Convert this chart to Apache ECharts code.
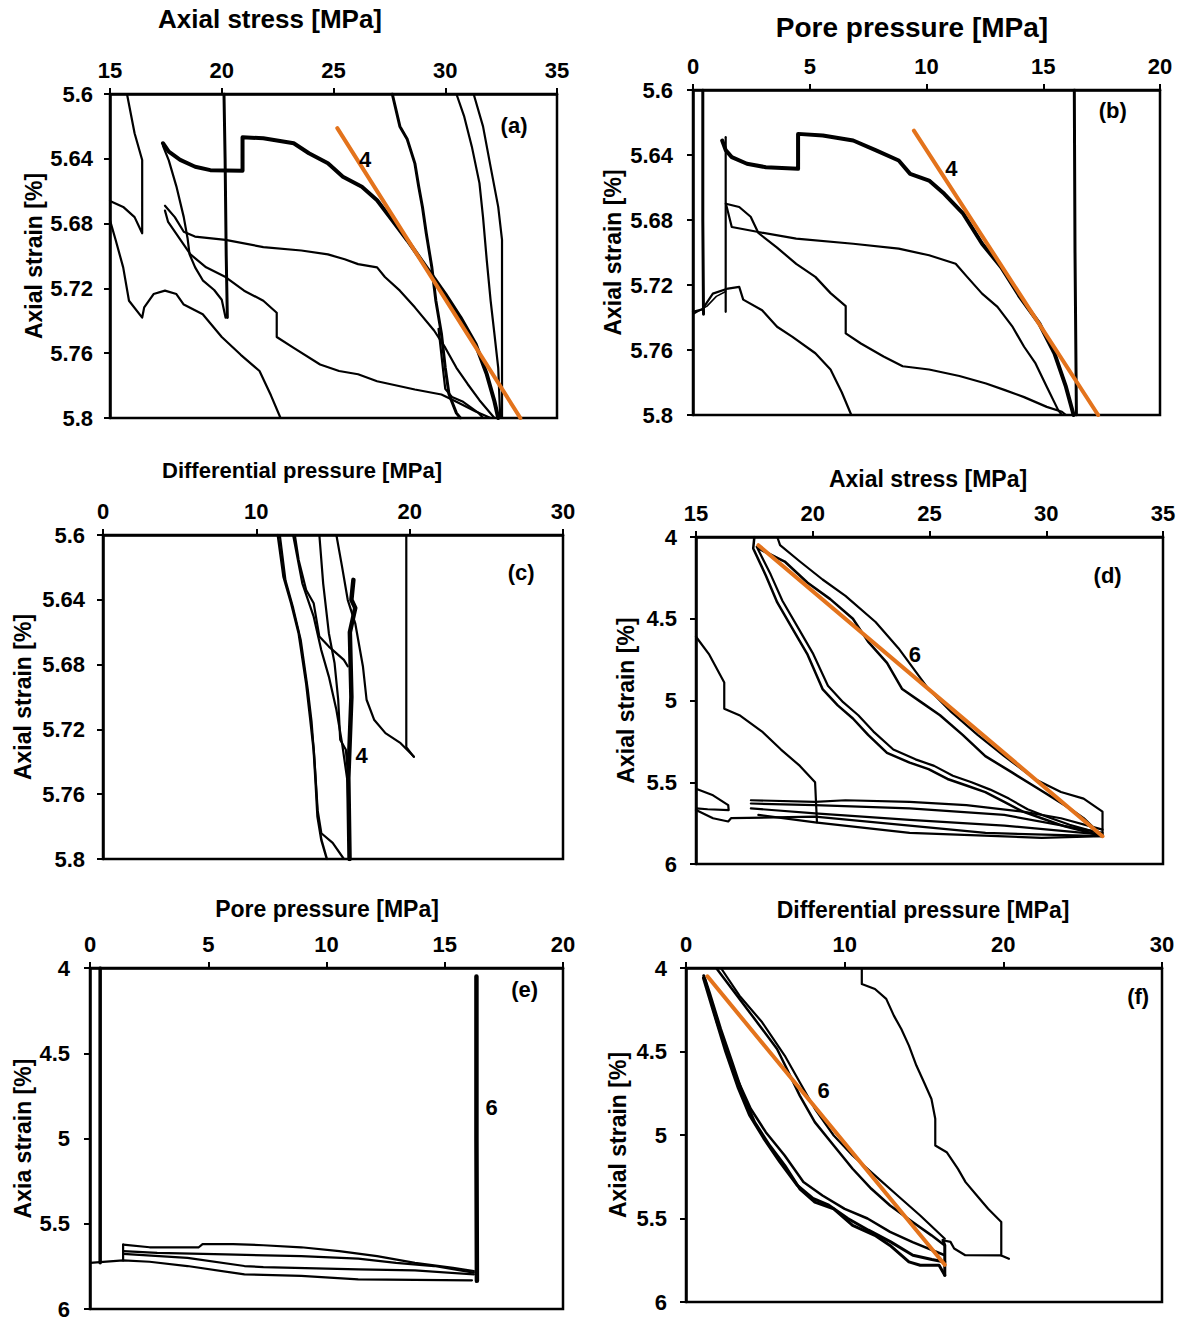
<!DOCTYPE html>
<html><head><meta charset="utf-8">
<script src="https://cdn.jsdelivr.net/npm/echarts@6/dist/echarts.min.js"></script>
<style>html,body{margin:0;padding:0;background:#fff}#c{width:1179px;height:1320px}</style>
</head><body><div id="c"></div>
<script>
// ---------- tick ranges ----------
const xRanges = [[15,35,5],[0,20,5],[0,30,10],[15,35,5],[0,20,5],[0,30,10]];
const yRanges = [[5.6,5.8,0.04],[5.6,5.8,0.04],[5.6,5.8,0.04],[4,6,0.5],[4,6,0.5],[4,6,0.5]];
const xTitles = ['Axial stress [MPa]','Pore pressure [MPa]','Differential pressure [MPa]','Axial stress [MPa]','Pore pressure [MPa]','Differential pressure [MPa]'];
const yTitles = ['Axial strain [%]','Axial strain [%]','Axial strain [%]','Axial strain [%]','Axia strain [%]','Axial strain [%]'];
const panelTags = ['(a)','(b)','(c)','(d)','(e)','(f)'];
const tagPos = [[33.1,5.62],[18.0,5.6127],[27.3,5.6236],[32.65,4.24],[18.4,4.13],[28.53,4.175]];
const slopeLabels = [['4',26.44,5.6407,0],['4',11.09,5.6485,1],['4',16.9,5.7367,2],['6',24.39,4.72,3],['6',17.0,4.82,4],['6',8.71,4.734,5]];

// ---------- panel (a): axial stress vs axial strain ----------
const a_orange = [[25.17,5.6211],[33.36,5.8]];
const a_thick = [[17.37,5.6304],[17.63,5.6356],[18.14,5.6407],[18.81,5.6449],[19.49,5.647],[20.93,5.6474],[20.93,5.6267],[21.86,5.6273],[23.22,5.6304],[23.9,5.6366],[24.75,5.6428],[25.42,5.6511],[26.27,5.6573],[26.95,5.6656],[27.63,5.678],[28.31,5.6904],[29.15,5.7069],[30.0,5.7235],[30.68,5.738],[31.36,5.7545],[31.86,5.7731],[32.2,5.7897],[32.37,5.8]];
const a_vert = [[20.1,5.6],[20.15,5.64],[20.2,5.70],[20.25,5.738]];
const a_c1 = [[15,5.666],[15.59,5.6697],[16.1,5.676],[16.44,5.686],[16.44,5.6407],[16.1,5.6242],[15.76,5.6]];
const a_c2 = [[15,5.678],[15.25,5.69],[15.59,5.707],[15.85,5.7276],[16.44,5.738],[16.53,5.7317],[16.95,5.7235],[17.46,5.7214],[17.97,5.7235],[18.3,5.73],[19.15,5.736],[20.0,5.750],[20.85,5.761],[21.69,5.771],[22.2,5.786],[22.63,5.8]];
const a_c3 = [[17.37,5.632],[17.63,5.641],[17.97,5.657],[18.3,5.676],[18.47,5.689],[18.56,5.699],[18.81,5.707],[19.15,5.715],[19.66,5.721],[20.0,5.727],[20.17,5.738]];
const a_c4 = [[17.46,5.669],[17.9,5.676],[18.3,5.685],[18.8,5.688],[20.17,5.690],[21.86,5.6945],[23.56,5.6966],[24.75,5.699],[25.5,5.702],[26.1,5.705],[26.95,5.707],[27.3,5.713],[27.97,5.7214],[28.64,5.7317],[29.5,5.746],[30.0,5.7566],[30.5,5.769],[31.0,5.779],[31.53,5.789],[32.2,5.8]];
const a_c5 = [[17.46,5.672],[17.6,5.679],[18.0,5.687],[18.6,5.699],[19.3,5.707],[20.17,5.713],[21.0,5.7214],[21.86,5.7276],[22.46,5.735],[22.46,5.750],[23.2,5.7566],[24.4,5.767],[25.25,5.771],[26.1,5.773],[26.95,5.7773],[28.64,5.7824],[29.83,5.7855],[30.5,5.790],[31.36,5.796],[32.03,5.8]];
const a_c6 = [[27.63,5.6],[27.97,5.62],[28.3,5.628],[28.64,5.6428],[28.81,5.657],[28.98,5.6697],[29.15,5.686],[29.4,5.707],[29.58,5.7276],[29.83,5.748],[30.0,5.769],[30.17,5.7855],[30.5,5.797],[30.68,5.8]];
const a_c6b = [[29.7,5.745],[29.9,5.770],[30.0,5.782],[30.3,5.787],[30.8,5.790],[31.5,5.797],[31.7,5.8]];
const a_c7 = [[30.5,5.6],[30.85,5.614],[31.19,5.6325],[31.53,5.655],[31.69,5.676],[31.86,5.703],[32.03,5.7276],[32.2,5.748],[32.37,5.769],[32.46,5.8]];
const a_c8 = [[31.27,5.6],[31.69,5.62],[32.03,5.645],[32.37,5.6697],[32.54,5.690],[32.54,5.8]];

// ---------- panel (b): pore pressure vs axial strain ----------
const b_orange = [[9.46,5.625],[17.35,5.8]];
const b_vert1 = [[0.42,5.6],[0.42,5.68],[0.45,5.738]];
const b_vert2 = [[1.4,5.629],[1.4,5.7365]];
const b_c1 = [[0,5.7365],[0.4,5.735],[0.85,5.7253],[1.5,5.7222],[1.98,5.7212],[2.15,5.729],[2.96,5.7355],[3.6,5.7457],[4.26,5.7519],[5.24,5.762],[5.89,5.772],[6.37,5.786],[6.78,5.8]];
const b_c1b = [[0,5.738],[0.6,5.733],[1.0,5.727],[1.4,5.724]];
const b_thick = [[1.25,5.6311],[1.4,5.637],[1.66,5.6413],[2.31,5.6454],[3.12,5.6475],[4.5,5.6485],[4.5,5.627],[5.56,5.628],[6.86,5.6311],[7.84,5.6372],[8.81,5.6434],[9.3,5.6516],[10.11,5.6557],[10.76,5.6639],[11.57,5.6761],[12.38,5.6946],[13.2,5.709],[14.0,5.7273],[14.83,5.7437],[15.48,5.7621],[15.97,5.7826],[16.3,5.8]];
const b_c4 = [[1.41,5.670],[1.66,5.6843],[2.8,5.6874],[4.42,5.6915],[6.86,5.6946],[8.81,5.6976],[10.11,5.7017],[11.25,5.7069],[11.74,5.715],[12.38,5.7253],[13.04,5.7335],[13.69,5.7458],[14.18,5.758],[14.67,5.7683],[15.15,5.7826],[15.64,5.797],[15.8,5.8]];
const b_c5 = [[1.41,5.670],[1.98,5.672],[2.47,5.678],[2.8,5.688],[3.6,5.697],[4.42,5.707],[5.24,5.715],[5.89,5.725],[6.54,5.733],[6.54,5.7498],[7.19,5.756],[8.16,5.764],[8.98,5.770],[10.11,5.772],[11.41,5.776],[12.55,5.7806],[13.36,5.7847],[14.18,5.789],[15.15,5.795],[15.8,5.798],[15.97,5.8]];
const b_vert3 = [[16.33,5.6],[16.36,5.7],[16.42,5.8]];

// ---------- panel (c): differential pressure vs axial strain ----------
const c_v20 = [[19.78,5.6],[19.78,5.731],[20.27,5.737]];
const c_2 = [[15.22,5.6],[15.59,5.6195],[15.96,5.640],[16.45,5.6545],[16.95,5.681],[17.19,5.7017],[17.68,5.714],[18.42,5.7223],[19.41,5.7285],[20.27,5.7367]];
const c_thick = [[16.33,5.6277],[16.2,5.64],[16.45,5.645],[16.1,5.66],[16.2,5.70],[16.0,5.75],[16.08,5.8]];
const c_4 = [[14.11,5.6],[14.36,5.63],[14.73,5.6606],[15.1,5.679],[15.34,5.7017],[15.47,5.7264],[15.84,5.7326],[16.0,5.75]];
const c_5 = [[12.51,5.6],[12.76,5.6154],[13.25,5.6339],[13.74,5.6421],[14.11,5.6627],[14.73,5.6689],[15.71,5.6771],[15.96,5.681]];
const c_6 = [[12.4,5.6],[13.0,5.6298],[13.74,5.6504],[14.23,5.6709],[14.73,5.6874],[15.22,5.7079],[15.59,5.7285],[15.96,5.753],[16.08,5.8]];
const c_7 = [[11.4,5.6],[11.77,5.6257],[12.27,5.6421],[12.76,5.6606],[13.25,5.6915],[13.5,5.7121],[13.74,5.7326],[13.87,5.7532],[13.99,5.7738],[14.24,5.7882],[14.6,5.8]];
const c_8 = [[11.53,5.6],[11.9,5.628],[12.4,5.645],[12.9,5.665],[13.35,5.695],[13.6,5.715],[13.8,5.74],[14.0,5.77],[14.24,5.7841],[14.98,5.79],[15.71,5.8]];

// ---------- panel (d): axial stress vs axial strain (full range) ----------
const d_orange = [[17.67,4.05],[32.41,5.83]];
const d_A1 = [[17.5,4.0],[17.45,4.07],[17.99,4.235],[18.48,4.40],[19.13,4.56],[19.78,4.72],[20.42,4.93],[21.07,5.03],[21.72,5.11],[22.37,5.21],[23.18,5.32],[24.15,5.38],[24.96,5.42],[25.77,5.48],[26.58,5.52],[27.39,5.56],[28.2,5.62],[29.0,5.68],[29.8,5.72],[30.79,5.77],[31.92,5.81],[32.41,5.83]];
const d_A2 = [[17.6,4.06],[18.2,4.23],[18.7,4.39],[19.35,4.55],[20.0,4.71],[20.65,4.91],[21.3,5.01],[21.95,5.09],[22.6,5.19],[23.45,5.30],[24.4,5.36],[25.2,5.40],[26.0,5.46],[26.8,5.50],[27.6,5.545],[28.4,5.60],[29.2,5.665],[30.0,5.71],[31.0,5.76],[32.0,5.80],[32.41,5.82]];
const d_B = [[17.67,4.07],[18.8,4.15],[19.78,4.28],[20.75,4.38],[21.72,4.50],[22.37,4.64],[23.18,4.77],[23.83,4.93],[24.64,5.01],[25.45,5.09],[26.42,5.21],[27.39,5.34],[28.53,5.44],[29.66,5.54],[30.79,5.64],[31.6,5.72],[32.25,5.81]];
const d_top = [[18.48,4.0],[18.6,4.05],[19.45,4.15],[20.42,4.26],[21.4,4.36],[22.69,4.52],[23.67,4.68],[24.96,4.93],[25.93,5.07],[27.06,5.21],[28.2,5.34],[29.5,5.48],[30.63,5.56],[31.6,5.60],[32.41,5.68],[32.41,5.81]];
const d_left = [[15,4.61],[15.57,4.72],[16.21,4.89],[16.21,5.05],[16.86,5.09],[17.83,5.19],[18.64,5.30],[19.45,5.40],[20.1,5.50],[20.18,5.745]];
const d_L1 = [[15,5.54],[15.73,5.58],[16.38,5.64],[16.4,5.67],[15.5,5.665],[15,5.66]];
const d_L2 = [[15,5.67],[15.73,5.72],[16.38,5.74],[16.5,5.72],[20.1,5.71],[24.15,5.765],[27.4,5.81],[32.41,5.83]];
const d_L3 = [[17.35,5.61],[20.1,5.62],[21.4,5.61],[24.15,5.62],[26.58,5.64],[29.0,5.68],[30.63,5.72],[32.41,5.79]];
const d_L4 = [[17.35,5.63],[20.1,5.64],[24.15,5.66],[28.2,5.70],[32.41,5.81]];
const d_L5 = [[17.35,5.66],[20.1,5.69],[24.15,5.73],[28.2,5.765],[32.41,5.82]];
const d_L6 = [[17.67,5.70],[20.1,5.745],[24.15,5.81],[29.8,5.84],[32.41,5.83]];

// ---------- panel (e): pore pressure vs axial strain (full range) ----------
const e_vert1 = [[0.43,4.0],[0.43,5.729]];
const e_vert2 = [[1.4,5.622],[1.4,5.715]];
const e_vert3 = [[16.34,4.05],[16.34,5.0],[16.36,5.835]];
const e_base = [[0,5.729],[1.4,5.715],[2.52,5.723],[4.12,5.748],[6.53,5.797],[8.93,5.806],[11.34,5.826],[16.15,5.832]];
const e_l1 = [[1.4,5.622],[2.52,5.638],[4.6,5.638],[4.76,5.619],[6.05,5.619],[7.33,5.626],[8.93,5.638],[10.54,5.661],[12.14,5.69],[13.74,5.729],[15.35,5.758],[16.23,5.777]];
const e_l2 = [[1.4,5.661],[2.84,5.671],[5.73,5.68],[8.93,5.69],[11.34,5.704],[12.94,5.729],[14.55,5.748],[16.23,5.787]];
const e_l3 = [[1.4,5.677],[4.12,5.70],[6.53,5.748],[7.33,5.754],[11.34,5.768],[13.74,5.774],[16.23,5.797]];

// ---------- panel (f): differential pressure vs axial strain (full range) ----------
const f_orange = [[1.35,4.05],[16.31,5.777]];
const f_right = [[11.08,4.0],[11.08,4.096],[11.91,4.126],[12.62,4.185],[13.1,4.285],[13.57,4.365],[14.05,4.465],[14.52,4.584],[15.0,4.684],[15.47,4.784],[15.71,4.903],[15.71,5.063],[16.43,5.103],[17.14,5.203],[17.62,5.282],[18.33,5.362],[19.04,5.442],[19.87,5.521],[19.87,5.721],[20.35,5.741]];
const f_right2 = [[19.87,5.721],[17.6,5.72],[16.9,5.68],[16.67,5.64],[16.19,5.63]];
const f_low1 = [[1.12,4.046],[1.47,4.146],[2.18,4.365],[2.9,4.564],[3.6,4.764],[4.32,4.923],[5.27,5.063],[6.22,5.182],[7.17,5.322],[8.12,5.402],[9.31,5.442],[10.5,5.541],[11.9,5.601],[12.86,5.661],[14.05,5.76],[14.76,5.78],[15.95,5.78],[16.31,5.84]];
const f_low2 = [[1.2,4.07],[1.95,4.325],[3.13,4.644],[4.08,4.843],[5.03,4.983],[6.22,5.123],[7.4,5.282],[8.6,5.362],[10.0,5.442],[11.44,5.5],[12.86,5.58],[14.28,5.641],[16.31,5.72]];
const f_low3 = [[1.1,4.06],[1.7,4.25],[2.5,4.5],[3.3,4.72],[4.0,4.88],[4.9,5.02],[5.9,5.16],[7.0,5.30],[8.0,5.38],[9.0,5.42],[10.2,5.50],[11.5,5.57],[12.9,5.64],[14.3,5.72],[15.5,5.745],[16.31,5.76]];
const f_up1 = [[1.95,4.006],[2.9,4.126],[3.85,4.245],[4.8,4.365],[5.74,4.485],[6.46,4.624],[7.17,4.764],[8.12,4.923],[9.31,5.063],[10.5,5.202],[11.68,5.322],[12.86,5.422],[14.28,5.521],[15.47,5.601],[16.31,5.661]];
const f_up2 = [[2.2,4.0],[3.37,4.166],[4.8,4.325],[6.22,4.524],[7.17,4.684],[8.12,4.843],[9.31,5.003],[10.5,5.123],[11.9,5.242],[13.33,5.362],[14.76,5.482],[16.31,5.621]];
const f_vert = [[16.2,5.63],[16.31,5.66],[16.31,5.84]];

// ---------- layout ----------
const FONT = 'Arial, "Liberation Sans", sans-serif';
const ORANGE = '#E3731C';
const grids = [
  {left:110, top:94, width:447, height:324},
  {left:693, top:90, width:467, height:325},
  {left:103, top:535, width:460, height:324},
  {left:696, top:537, width:467, height:327},
  {left:90,  top:968, width:473, height:343},
  {left:686, top:968, width:476, height:334}
];
const titleSpec = [[270,22,26],[912,30,28],[302,473,22],[928,481,23],[327,911,23],[923,912,23]];
const yNameGap = [65,69,69,59,56,57];
const yLabMargin = [17,20,18,19,20,19];

const panelLines = [
  [[a_c1,2.2],[a_c2,2.2],[a_c3,2.2],[a_c4,2.2],[a_c5,2.2],[a_c6,3],[a_c6b,2.2],[a_c7,2.2],[a_c8,2.2],[a_vert,3],[a_thick,4],[a_orange,4,ORANGE]],
  [[b_vert1,3],[b_vert2,2.2],[b_c1,2.2],[b_c1b,1.5],[b_c4,2.2],[b_c5,2.2],[b_vert3,3],[b_thick,4],[b_orange,4,ORANGE]],
  [[c_v20,2.2],[c_2,2.2],[c_4,2.2],[c_5,2.2],[c_6,2.2],[c_7,2.5],[c_8,2.2],[c_thick,4.5]],
  [[d_left,2.2],[d_L1,2.2],[d_L2,2.2],[d_L3,2.2],[d_L4,2.2],[d_L5,2.2],[d_L6,2.2],[d_top,2.2],[d_B,2.5],[d_A1,2.5],[d_A2,2.2],[d_orange,4,ORANGE]],
  [[e_vert1,3.5],[e_vert2,2.2],[e_base,2.2],[e_l1,2.2],[e_l2,2.2],[e_l3,2.2],[e_vert3,4.5]],
  [[f_right,2.2],[f_right2,2.2],[f_low1,3],[f_low2,2.5],[f_low3,3],[f_up1,2.5],[f_up2,2.2],[f_vert,3],[f_orange,4,ORANGE]]
];

const xAxis = [], yAxis = [], series = [], title = [];
const HIDDEN = {color:'rgba(255,255,255,0)'};
function textLabel(txt){
  return {show:true, position:[0,0], align:'center', verticalAlign:'middle', formatter:txt,
    color:'#000', opacity:1, textBorderWidth:0, fontSize:22, fontWeight:'bold', fontFamily:FONT};
}
grids.forEach((g,i)=>{
  xAxis.push({type:'value', gridIndex:i, position:'top', min:xRanges[i][0], max:xRanges[i][1], interval:xRanges[i][2],
    axisLine:{show:true, onZero:false, lineStyle:{color:'#000', width:2.5}},
    axisTick:{show:true, length:6, lineStyle:{color:'#000', width:2}},
    axisLabel:{color:'#000', fontSize:22, fontWeight:'bold', fontFamily:FONT, margin:13},
    splitLine:{show:false}});
  yAxis.push({type:'value', gridIndex:i, inverse:true, min:yRanges[i][0], max:yRanges[i][1], interval:yRanges[i][2],
    name:yTitles[i], nameLocation:'middle', nameRotate:90, nameGap:yNameGap[i],
    nameTextStyle:{color:'#000', fontSize:23, fontWeight:'bold', fontFamily:FONT},
    axisLine:{show:true, onZero:false, lineStyle:{color:'#000', width:2.5}},
    axisTick:{show:true, length:6, lineStyle:{color:'#000', width:2}},
    axisLabel:{color:'#000', fontSize:22, fontWeight:'bold', fontFamily:FONT, margin:yLabMargin[i]},
    splitLine:{show:false}});
  const t = titleSpec[i];
  title.push({text:xTitles[i], left:t[0], top:t[1]-t[2]*0.6, textAlign:'center', padding:0,
    textStyle:{color:'#000', fontSize:t[2], fontWeight:'bold', fontFamily:FONT}});
  panelLines[i].forEach(l=>{
    series.push({type:'line', xAxisIndex:i, yAxisIndex:i, data:l[0], showSymbol:false, symbol:'none',
      lineStyle:{color:l[2]||'#000', width:l[1], join:'round', cap:'round'}, clip:true, silent:true, z:l[2]?4:3});
  });
  series.push({type:'scatter', xAxisIndex:i, yAxisIndex:i, data:[tagPos[i]], symbolSize:1, itemStyle:HIDDEN, silent:true, z:6,
    label:textLabel(panelTags[i])});
});
slopeLabels.forEach(s=>{
  series.push({type:'scatter', xAxisIndex:s[3], yAxisIndex:s[3], data:[[s[1],s[2]]], symbolSize:1, itemStyle:HIDDEN, silent:true, z:6,
    label:textLabel(s[0])});
});

const chart = echarts.init(document.getElementById('c'), null, {renderer:'svg'});
chart.setOption({
  animation:false,
  backgroundColor:'#fff',
  title:title,
  grid:grids.map(g=>Object.assign({show:true, borderColor:'#000', borderWidth:2.5, backgroundColor:'transparent', containLabel:false}, g)),
  xAxis:xAxis, yAxis:yAxis, series:series
});
</script></body></html>
